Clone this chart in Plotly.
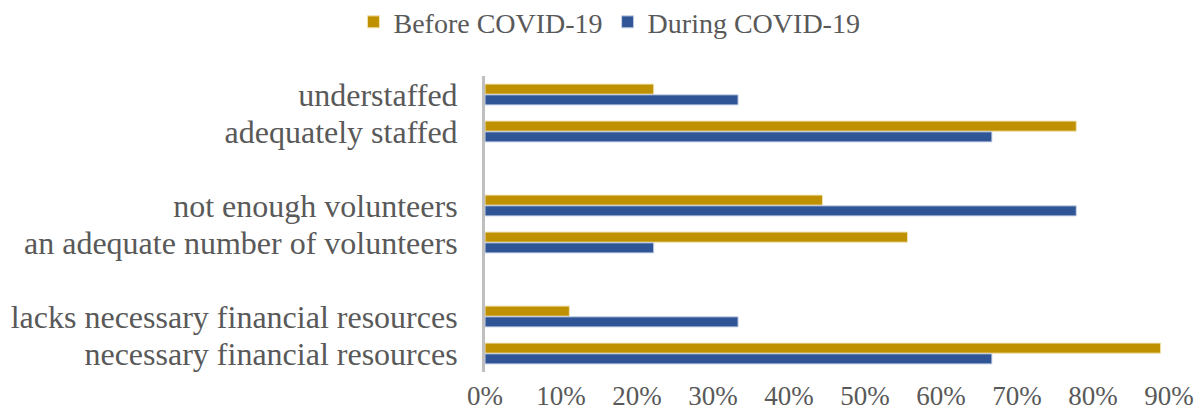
import plotly.graph_objects as go

categories = [
    "understaffed",
    "adequately staffed",
    " ",
    "not enough volunteers",
    "an adequate number of volunteers",
    "  ",
    "lacks necessary financial resources",
    "necessary financial resources",
]
before_covid = [0.222, 0.778, None, 0.444, 0.556, None, 0.111, 0.889]
during_covid = [0.333, 0.667, None, 0.778, 0.222, None, 0.333, 0.667]

FONT = "Liberation Serif, Times New Roman, serif"
GRAY = "#595959"

fig = go.Figure()
fig.add_trace(go.Bar(
    y=categories, x=before_covid, orientation="h", name="Before COVID-19",
    marker=dict(color="#BF9000", line=dict(color="#F2E3B3", width=1)),
))
fig.add_trace(go.Bar(
    y=categories, x=during_covid, orientation="h", name="During COVID-19",
    marker=dict(color="#2F5597", line=dict(color="#C9D3E6", width=1)),
))

fig.update_layout(
    width=1195, height=418,
    margin=dict(l=485, r=26, t=76, b=46),
    paper_bgcolor="white", plot_bgcolor="white",
    barmode="group", bargap=0.42, bargroupgap=0.06,
    font=dict(family=FONT, color=GRAY, size=27),
    legend=dict(
        orientation="h", xref="container", yref="container",
        x=0.51, xanchor="center", y=0.947, yanchor="middle",
        font=dict(family=FONT, size=28, color=GRAY),
        itemwidth=30, traceorder="normal",
    ),
    showlegend=True,
)
fig.update_xaxes(
    range=[0, 0.9], dtick=0.1, tickformat=".0%",
    showgrid=False, zeroline=False, showline=False, ticks="",
    tickfont=dict(family=FONT, size=27, color=GRAY),
    ticklabelstandoff=5, automargin=False,
)
fig.update_yaxes(
    categoryorder="array", categoryarray=categories,
    tickmode="array", tickvals=categories, ticktext=categories,
    range=[7.5, -0.5],
    showgrid=False, zeroline=False,
    showline=True, linecolor="#BFBFBF", linewidth=3,
    ticks="", tickfont=dict(family=FONT, size=32, color=GRAY),
    ticklabelstandoff=18, automargin=False,
)

fig.write_html("out.html")
